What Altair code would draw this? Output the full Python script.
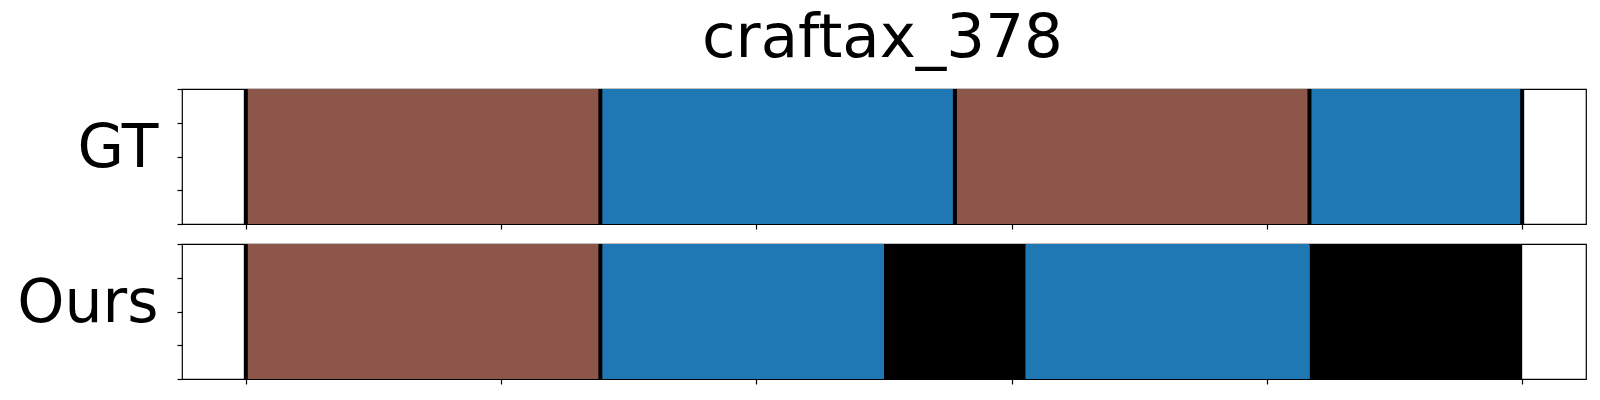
import altair as alt
import pandas as pd

N_FRAMES = 36
TITLE = "craftax_378"

gt_start = [0, 10, 20, 30]
gt_end = [10, 20, 30, 36]
gt_cls = ["brown", "blue", "brown", "blue"]
gt_lines = [0, 10, 20, 30, 36]

ours_start = [0, 10, 18, 22, 30]
ours_end = [10, 18, 22, 30, 36]
ours_cls = ["brown", "blue", "black", "blue", "black"]
ours_lines = [0, 10]

class_names = ["brown", "blue", "black"]
class_colors = ["#8c564b", "#1f77b4", "#000000"]

x_ticks = [N_FRAMES * i / 5 for i in range(6)]
y_ticks = [0, 0.25, 0.5, 0.75, 1.0]
margin = 0.05 * N_FRAMES

W, H = 1404, 135


def panel(starts, ends, classes, lines, label):
    seg = pd.DataFrame({"start": starts, "end": ends, "cls": classes,
                        "lo": [0] * len(starts), "hi": [1] * len(starts)})
    ln = pd.DataFrame({"pos": lines})
    xs = alt.Scale(domain=[-margin, N_FRAMES + margin], nice=False, zero=False)
    ys = alt.Scale(domain=[0, 1], nice=False)
    rects = alt.Chart(seg).mark_rect(strokeWidth=0).encode(
        x=alt.X("start:Q", scale=xs, axis=alt.Axis(
            values=x_ticks, labels=False, title=None, domain=False, grid=False,
            ticks=True, tickSize=5, tickWidth=1.2, tickColor="black")),
        x2="end:Q",
        y=alt.Y("lo:Q", scale=ys, axis=alt.Axis(
            values=y_ticks, labels=False, domain=False, grid=False,
            ticks=True, tickSize=5, tickWidth=1.2, tickColor="black",
            title=label, titleAngle=0, titleAlign="right", titleBaseline="middle",
            titleFontSize=60, titleFont="DejaVu Sans", titleFontWeight="normal",
            titleColor="black", titleX=-24, titleY=H / 2 - 8)),
        y2="hi:Q",
        color=alt.Color("cls:N", scale=alt.Scale(domain=class_names, range=class_colors),
                        legend=None),
    )
    rules = alt.Chart(ln).mark_rule(color="black", strokeWidth=4).encode(
        x=alt.X("pos:Q", scale=xs)
    )
    return alt.layer(rects, rules).properties(width=W, height=H)


top = panel(gt_start, gt_end, gt_cls, gt_lines, "GT")
bottom = panel(ours_start, ours_end, ours_cls, ours_lines, "Ours")

chart = alt.vconcat(top, bottom, spacing=10).properties(
    title=alt.TitleParams(TITLE, fontSize=61, font="DejaVu Sans", fontWeight="normal",
                          color="black", anchor="middle", offset=17, dx=81, dy=1),
    padding={"left": 8, "top": 0, "right": 0, "bottom": 0},
    background="white",
).configure_view(stroke="black", strokeWidth=1.2)

chart.save("out.html", embed_options={"renderer": "svg", "actions": False})
